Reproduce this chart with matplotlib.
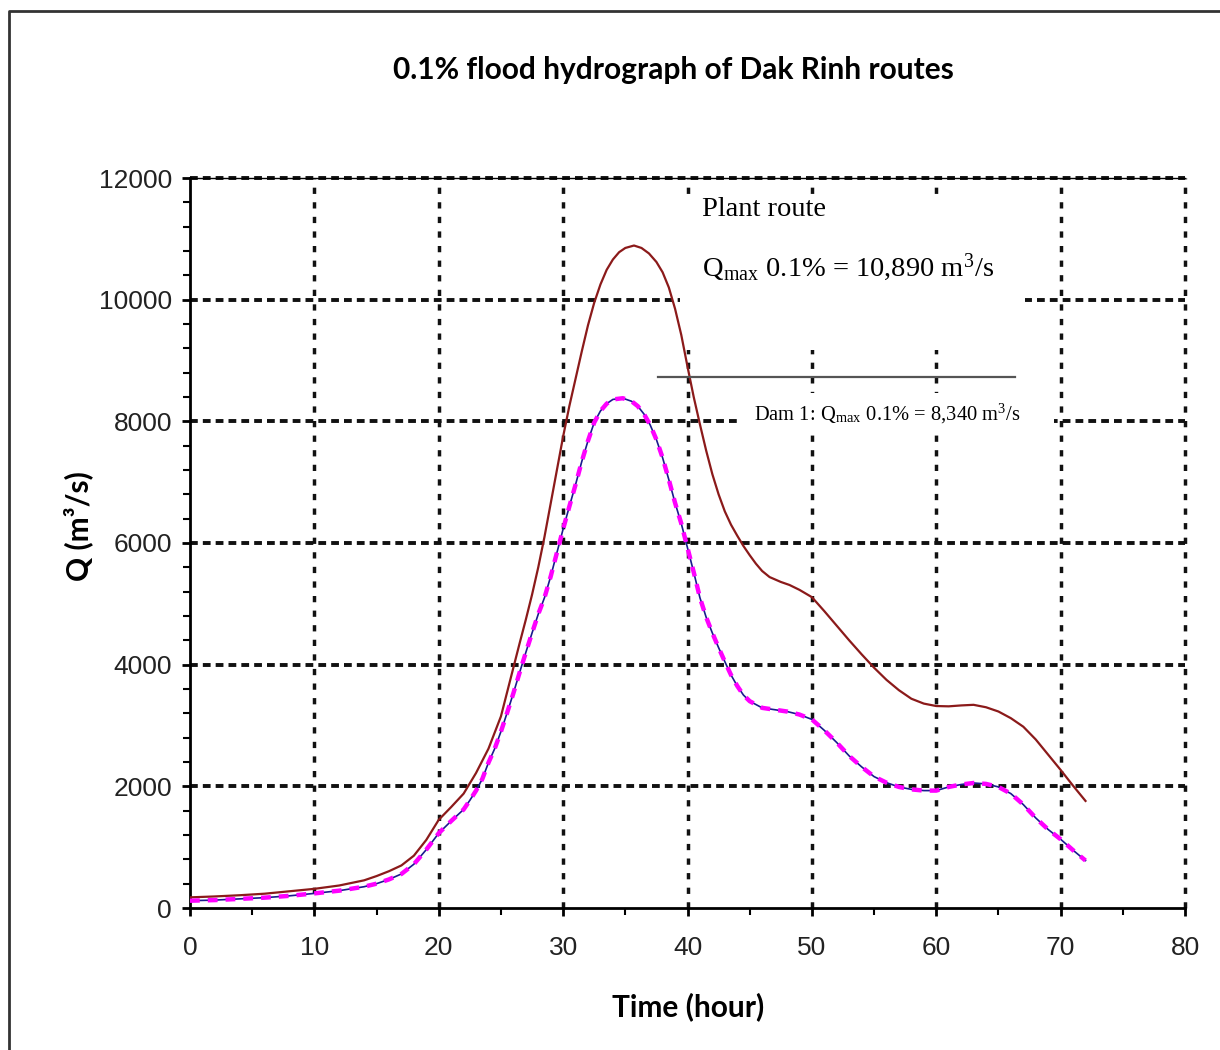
import numpy as np
import matplotlib
matplotlib.use("Agg")
import matplotlib.pyplot as plt
from matplotlib.lines import Line2D
from matplotlib.patches import Rectangle
from matplotlib.ticker import MultipleLocator

# hydrograph values (time in hours, Q in m3/s)
plant_t = [0, 2, 4, 6, 8, 10, 12, 14, 15, 16, 17, 18, 19, 20, 21, 22, 23, 24, 25, 26,
           26.5, 27, 27.5, 28, 28.5, 29, 29.5, 30, 30.5, 31, 31.5, 32, 32.5, 33, 33.5,
           34, 34.5, 35, 35.7, 36.3, 36.9, 37.5, 38, 38.5, 39, 39.5, 40, 40.5, 41, 41.5,
           42, 42.5, 43, 43.5, 44, 44.5, 45, 45.5, 46, 46.6, 47.5, 48.2, 49, 50, 51, 52,
           53, 54, 55, 56, 57, 58, 59, 60, 61, 62, 63, 64, 65, 66, 67, 68, 69, 70, 71, 72]
plant_q = [175, 190, 210, 235, 275, 315, 370, 455, 525, 605, 700, 860, 1120, 1450, 1660,
           1880, 2220, 2620, 3150, 3950, 4350, 4740, 5150, 5600, 6100, 6650, 7200, 7750,
           8250, 8700, 9150, 9580, 9950, 10250, 10490, 10660, 10780, 10850, 10890, 10850,
           10760, 10620, 10450, 10200, 9850, 9420, 8900, 8400, 7950, 7520, 7130, 6800,
           6520, 6300, 6120, 5950, 5800, 5660, 5540, 5440, 5360, 5310, 5230, 5110, 4880,
           4640, 4400, 4170, 3950, 3750, 3580, 3440, 3360, 3320, 3315, 3330, 3340, 3300,
           3230, 3120, 2980, 2770, 2520, 2270, 2010, 1760]

dam_t = [0, 2, 4, 6, 8, 10, 12, 14, 15, 16, 17, 18, 19, 20, 21, 22, 22.5, 23, 23.5, 24,
         24.5, 25, 25.5, 26, 26.5, 27, 27.5, 28, 28.5, 29, 29.5, 30, 30.5, 31, 31.5, 32,
         32.5, 33, 33.5, 34, 34.8, 35.5, 36, 36.5, 37, 37.5, 38, 38.5, 39, 39.5, 40, 40.5,
         41, 41.5, 42, 42.5, 43, 43.5, 44, 44.5, 45, 46, 47, 48, 49, 50, 51, 52, 53, 54,
         55, 56, 57, 58, 59, 60, 61, 62, 63, 64, 65, 66, 67, 68, 69, 70, 71, 72]
dam_q = [120, 130, 150, 170, 200, 240, 285, 350, 400, 470, 560, 720, 960, 1230, 1430,
         1620, 1770, 1930, 2120, 2390, 2620, 2900, 3210, 3530, 3870, 4200, 4520, 4830,
         5100, 5450, 5840, 6230, 6600, 6960, 7340, 7680, 7980, 8170, 8290, 8360, 8380,
         8330, 8250, 8120, 7940, 7700, 7400, 7040, 6660, 6320, 5920, 5520, 5100, 4780,
         4520, 4280, 4050, 3830, 3650, 3500, 3400, 3290, 3260, 3230, 3180, 3100, 2920,
         2720, 2500, 2320, 2160, 2060, 1990, 1950, 1930, 1930, 1990, 2030, 2055, 2040,
         1990, 1880, 1700, 1480, 1290, 1130, 950, 780]

x_ticks = np.arange(0, 90, 10)
y_ticks = np.arange(0, 14000, 2000)

plt.rcParams['mathtext.fontset'] = 'stix'

fig = plt.figure(figsize=(12.2, 10.5), dpi=100)
ax = fig.add_axes([190 / 1220, 1 - 908 / 1050, 995 / 1220, 730 / 1050])

# grid drawn as thick dotted lines
for x in x_ticks[1:]:
    ax.axvline(x, color='#111111', lw=2.5, dashes=(1.8, 2.4), zorder=1, clip_on=False)
for y in y_ticks[1:]:
    ax.axhline(y, color='#111111', lw=2.8, dashes=(2.0, 1.3), zorder=1, clip_on=False)

ax.plot(plant_t, plant_q, color='#8b1a1a', lw=1.6, zorder=4)
ax.plot(dam_t, dam_q, color='#1a1a8f', lw=1.2, zorder=4)
ax.plot(dam_t, dam_q, color='#ff00ff', lw=3.2, dashes=(2.2, 1.8), zorder=5)

ax.set_xlim(0, 80)
ax.set_ylim(0, 12000)
ax.set_xticks(x_ticks)
ax.set_yticks(y_ticks)
ax.xaxis.set_minor_locator(MultipleLocator(5))
ax.yaxis.set_minor_locator(MultipleLocator(400))
ax.tick_params(which='major', direction='out', length=6, width=2, pad=14,
               labelsize=19, labelcolor='#222222')
ax.tick_params(axis='y', which='major', pad=7)
ax.tick_params(which='minor', direction='out', length=5, width=1.5)
for lab in ax.get_xticklabels() + ax.get_yticklabels():
    lab.set_fontfamily('Liberation Sans')

for side in ['left', 'bottom']:
    ax.spines[side].set_linewidth(2)
ax.spines['top'].set_linewidth(1)
ax.spines['right'].set_visible(False)

# white cover boxes of the pasted annotation
ax.add_patch(Rectangle((0.492, 0.764), 0.347, 0.213, transform=ax.transAxes,
                       facecolor='white', edgecolor='none', zorder=3))
ax.add_patch(Rectangle((0.552, 0.655), 0.316, 0.05, transform=ax.transAxes,
                       facecolor='white', edgecolor='none', zorder=3))
ax.add_line(Line2D([0.470, 0.829], [0.727, 0.727], transform=ax.transAxes,
                   color='#555555', lw=1.6, zorder=6))

fig.text(702 / 1220, 1 - 209 / 1050, 'Plant route', fontsize=20.5,
         family='Liberation Serif', va='center')
fig.text(702 / 1220, 1 - 268 / 1050,
         r'Q$_{\mathregular{max}}$ 0.1% = 10,890 m$^{\mathregular{3}}$/s', fontsize=20.5,
         family='Liberation Serif', va='center')
fig.text(754 / 1220, 1 - 414 / 1050,
         r'Dam 1: Q$_{\mathregular{max}}$ 0.1% = 8,340 m$^{\mathregular{3}}$/s', fontsize=14.8,
         family='Liberation Serif', va='center')

fig.text(673 / 1220, 1 - 70 / 1050, '0.1% flood hydrograph of Dak Rinh routes',
         fontsize=21.5, fontweight='bold', family='Lato', ha='center', va='center')
fig.text(688 / 1220, 1 - 1007 / 1050, 'Time (hour)', fontsize=21.5, fontweight='bold',
         family='Lato', ha='center', va='center')
fig.text(78 / 1220, 1 - 526 / 1050, 'Q (m³/s)', fontsize=21.5, fontweight='bold',
         family='Lato', ha='center', va='center', rotation=90)

# outer frame (left and top edges only, as in the scan)
fig.add_artist(Line2D([9 / 1220, 9 / 1220, 1.0], [0.0, 1 - 11 / 1050, 1 - 11 / 1050],
                      transform=fig.transFigure, color='#333333', lw=2))

fig.savefig('out.png', dpi=100)
